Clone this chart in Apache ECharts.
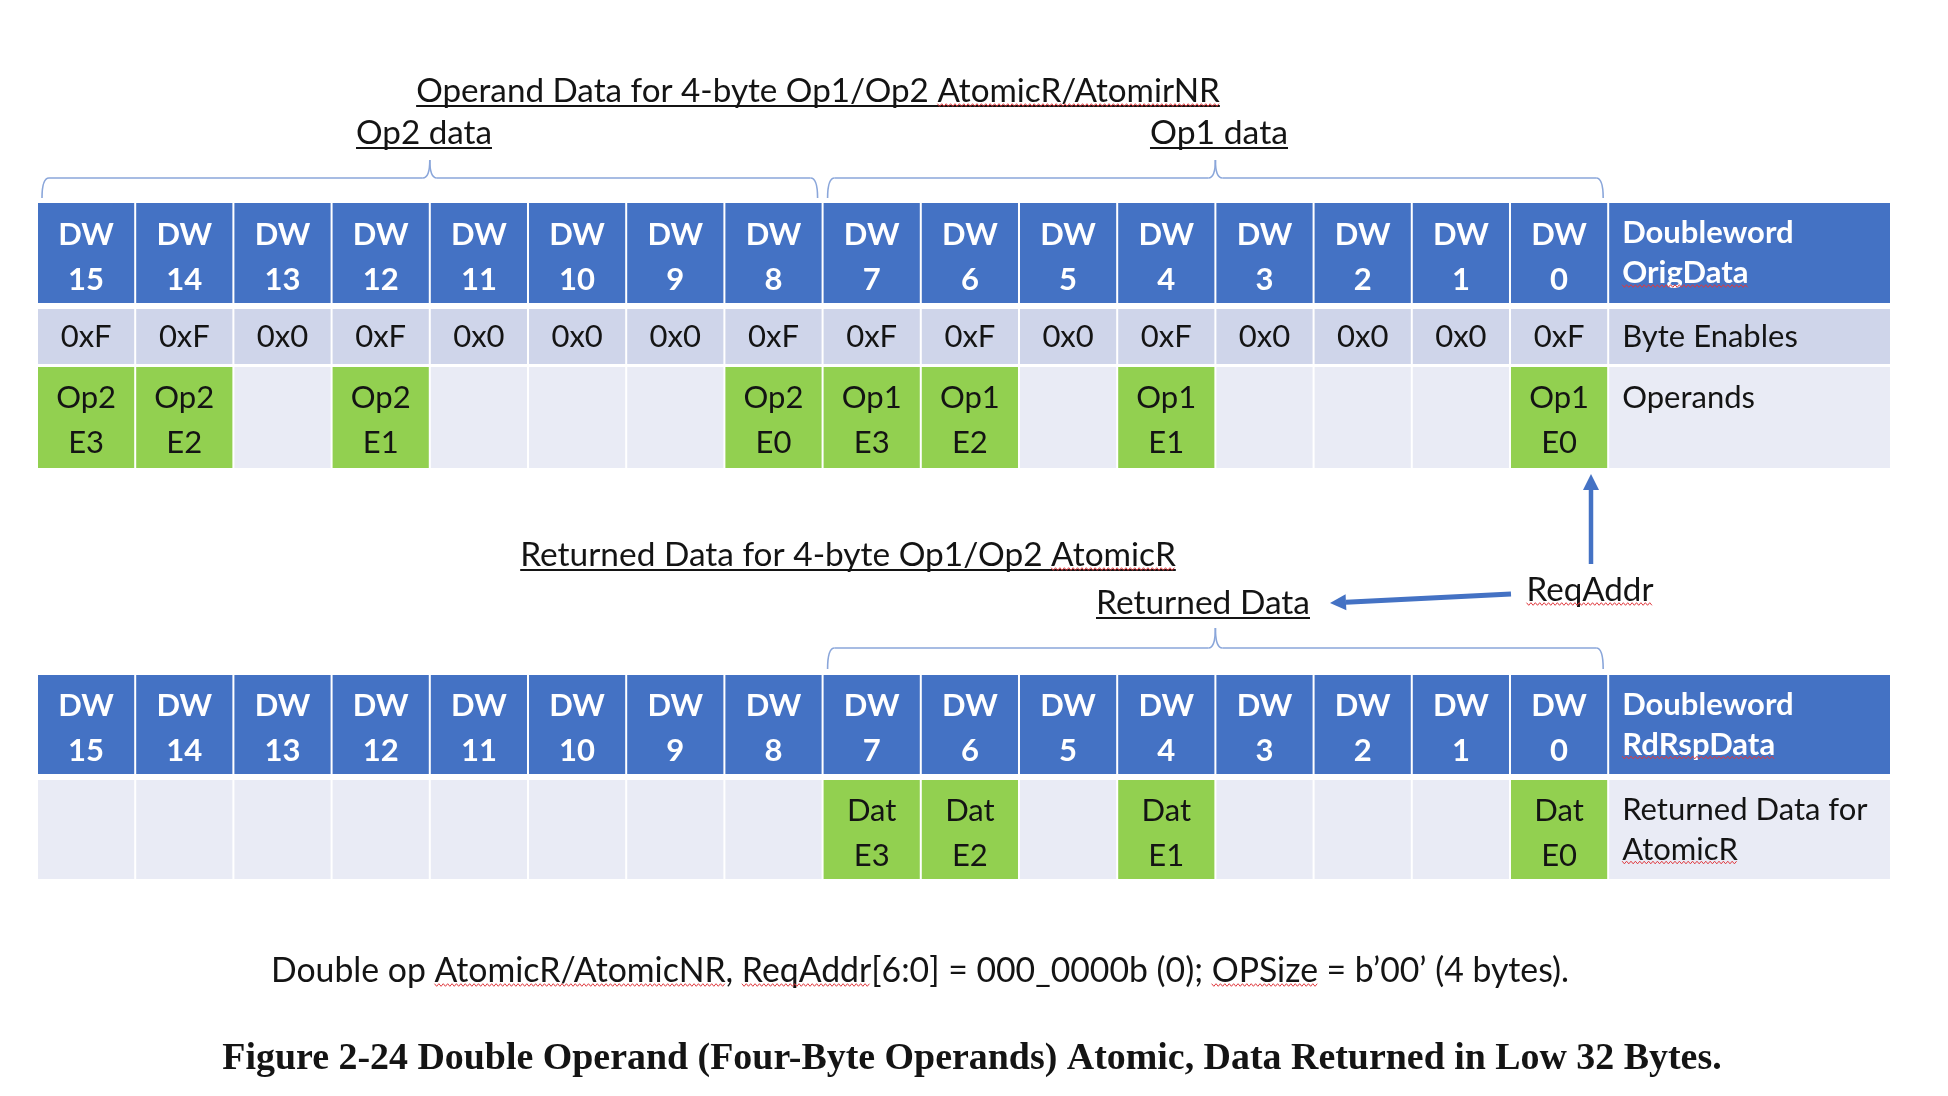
<!DOCTYPE html>
<html>
<head>
<meta charset="utf-8">
<title>Double Operand Atomic</title>
<script src="https://cdn.jsdelivr.net/npm/echarts@6.0.0/dist/echarts.min.js"></script>
<style>
  html, body { margin: 0; padding: 0; background: #fff; }
  #chart { width: 1948px; height: 1096px; }
</style>
</head>
<body>
<div id="chart"></div>
<script>
// doubleword columns, high DW first
var dwNumbers = ['15', '14', '13', '12', '11', '10', '9', '8', '7', '6', '5', '4', '3', '2', '1', '0'];
var byteEnables = ['0xF', '0xF', '0x0', '0xF', '0x0', '0x0', '0x0', '0xF', '0xF', '0xF', '0x0', '0xF', '0x0', '0x0', '0x0', '0xF'];
var operands = ['Op2\nE3', 'Op2\nE2', '', 'Op2\nE1', '', '', '', 'Op2\nE0', 'Op1\nE3', 'Op1\nE2', '', 'Op1\nE1', '', '', '', 'Op1\nE0'];
var returnedData = ['', '', '', '', '', '', '', '', 'Dat\nE3', 'Dat\nE2', '', 'Dat\nE1', '', '', '', 'Dat\nE0'];
var rowLabels = ['Doubleword\nOrigData', 'Byte Enables', 'Operands', 'Doubleword\nRdRspData', 'Returned Data for\nAtomicR'];
// braces, [first column, last column + 1, level]
var braceSpans = [[0, 8, 0], [8, 16, 0], [8, 16, 1]];

var BLUE = '#4472C4', BAND1 = '#CFD5EA', BAND2 = '#E9EBF5', GREEN = '#92D050';
var INK = '#141414', SQUIG = '#e0393e', BRACE = '#8aa6da';
var CELL_FONT = 'Lato';
var LABEL_W = 2.88;

var dwHeads = dwNumbers.map(function (n) { return 'DW\n' + n; });

// row bands (y in layout units of the value axis)
var rows = [
  { y: [203, 303], cells: dwHeads, fill: BLUE, head: true, lh: 45, dy: 4, label: rowLabels[0], mark: 1 },
  { y: [309, 364], cells: byteEnables, fill: BAND1, slots: 1, label: rowLabels[1] },
  { y: [367, 468], cells: operands, fill: BAND2, hit: GREEN, lh: 45, dy: 3, label: rowLabels[2] },
  { y: [675, 774], cells: dwHeads, fill: BLUE, head: true, lh: 45, dy: 4, label: rowLabels[3], mark: 1 },
  { y: [780, 879], cells: returnedData, fill: BAND2, hit: GREEN, lh: 45, dy: 4, label: rowLabels[4], mark: 1 }
];
var LABEL_LH = 40;
var braceLevels = [
  { line: 178, end: 198, tip: 160 },
  { line: 648, end: 669, tip: 628 }
];

var measureCtx = document.createElement('canvas').getContext('2d');
function textWidth(str, font) {
  measureCtx.font = font;
  return measureCtx.measureText(str).width;
}

function squiggle(x0, x1, y) {
  var pts = [], k = 0;
  for (var x = x0; x <= x1; x += 2.2, k++) {
    pts.push([x, y + (k % 2 ? 1.3 : -1.3)]);
  }
  return pts;
}

var cellData = [];
rows.forEach(function (row, r) {
  for (var c = 0; c <= 16; c++) cellData.push([c, r]);
});

function renderCell(params, api) {
  var c = api.value(0), r = api.value(1), row = rows[r];
  var isLabel = c === 16;
  var p0 = api.coord([c, row.y[0]]);
  var p1 = api.coord([isLabel ? c + LABEL_W : c + 1, row.y[1]]);
  var text = isLabel ? row.label : row.cells[c];
  var fill = row.fill;
  if (!isLabel && row.hit && text) fill = row.hit;
  var slots = row.slots || 2;
  var lh = isLabel ? LABEL_LH : (row.lh || 42);
  var size = 31;
  var font = (row.head ? 'bold ' : '') + size + 'px ' + CELL_FONT;
  var cy = (p0[1] + p1[1]) / 2 + (isLabel || slots === 1 ? 0 : (row.dy || 0));
  var top = cy - slots * lh / 2;
  var tx = isLabel ? p0[0] + 14 : (p0[0] + p1[0]) / 2;
  var children = [
    { type: 'rect', shape: { x: p0[0] + 1, y: p0[1], width: p1[0] - p0[0] - 2, height: p1[1] - p0[1] }, style: { fill: fill } },
    {
      type: 'text', x: tx, y: top,
      style: {
        text: text, fill: row.head ? '#fff' : INK, font: font,
        align: isLabel ? 'left' : 'center', verticalAlign: 'top', lineHeight: lh
      }
    }
  ];
  if (isLabel && row.mark != null) {
    var word = text.split('\n')[row.mark];
    var wy = top + row.mark * lh + lh / 2 + size * 0.42;
    children.push({
      type: 'polyline',
      shape: { points: squiggle(tx, tx + textWidth(word, font), wy) },
      style: { stroke: SQUIG, lineWidth: 1, fill: null }
    });
  }
  return { type: 'group', children: children };
}

function renderBrace(params, api) {
  var lv = braceLevels[api.value(2)];
  var a = api.coord([api.value(0), lv.line]);
  var b = api.coord([api.value(1), lv.line]);
  var x0 = a[0] + 5, x1 = b[0] - 5, xc = (a[0] + b[0]) / 2;
  var yl = a[1], ye = api.coord([0, lv.end])[1], yt = api.coord([0, lv.tip])[1];
  var r = 7;
  var st = { stroke: BRACE, lineWidth: 1.6, fill: null };
  function q(xa, ya, cx, cy, xb, yb) {
    return { type: 'bezierCurve', shape: { x1: xa, y1: ya, cpx1: cx, cpy1: cy, x2: xb, y2: yb }, style: st };
  }
  return {
    type: 'group',
    children: [
      q(x0, ye, x0, yl, x0 + r, yl),
      { type: 'line', shape: { x1: x0 + r, y1: yl, x2: xc - r, y2: yl }, style: st },
      q(xc - r, yl, xc, yl, xc, yt),
      q(xc, yt, xc, yl, xc + r, yl),
      { type: 'line', shape: { x1: xc + r, y1: yl, x2: x1 - r, y2: yl }, style: st },
      q(x1 - r, yl, x1, yl, x1, ye)
    ]
  };
}

// captions: fitted to the width they take in the figure
var captions = [
  { text: 'Operand Data for 4-byte Op1/Op2 AtomicR/AtomirNR', cx: 818, base: 102, w: 804, under: true, marks: ['AtomicR/AtomirNR'] },
  { text: 'Op2 data', cx: 424, base: 144, w: 136, under: true },
  { text: 'Op1 data', cx: 1219, base: 144, w: 138, under: true },
  { text: 'Returned Data for 4-byte Op1/Op2 AtomicR', cx: 848, base: 566, w: 656, under: true, marks: ['AtomicR'] },
  { text: 'Returned Data', cx: 1203, base: 614, w: 214, under: true },
  { text: 'ReqAddr', cx: 1590, base: 601, w: 127, marks: ['ReqAddr'] },
  { text: 'Double op AtomicR/AtomicNR, ReqAddr[6:0] = 000_0000b (0); OPSize = b\u201900\u2019 (4 bytes).', cx: 920, base: 982, w: 1298, marks: ['AtomicR/AtomicNR', 'ReqAddr', 'OPSize'] },
  { text: 'Figure 2-24 Double Operand (Four-Byte Operands) Atomic, Data Returned in Low 32 Bytes.', cx: 972, base: 1071, w: 1500, bold: true, family: '"Liberation Serif"' }
];

var graphics = [];
captions.forEach(function (cap) {
  var fam = cap.family || CELL_FONT;
  var wt = cap.bold ? 'bold ' : '';
  var size = 100 * cap.w / textWidth(cap.text, wt + '100px ' + fam);
  var font = wt + size.toFixed(2) + 'px ' + fam;
  var width = textWidth(cap.text, font);
  var left = cap.cx - width / 2;
  graphics.push({
    type: 'text', x: cap.cx, y: cap.base - size * 0.32,
    style: { text: cap.text, font: font, fill: INK, align: 'center', verticalAlign: 'middle' }
  });
  if (cap.under) {
    graphics.push({
      type: 'line', shape: { x1: left, y1: cap.base + 4, x2: left + width, y2: cap.base + 4 },
      style: { stroke: INK, lineWidth: 2 }
    });
  }
  (cap.marks || []).forEach(function (m) {
    var i = cap.text.indexOf(m);
    var mx = left + textWidth(cap.text.slice(0, i), font);
    graphics.push({
      type: 'polyline',
      shape: { points: squiggle(mx, mx + textWidth(m, font), cap.base + 3) },
      style: { stroke: SQUIG, lineWidth: 1, fill: null }
    });
  });
});

function arrow(from, to, w, headLen, headW) {
  var dx = to[0] - from[0], dy = to[1] - from[1];
  var len = Math.sqrt(dx * dx + dy * dy), ux = dx / len, uy = dy / len;
  var bx = to[0] - ux * headLen, by = to[1] - uy * headLen;
  graphics.push({ type: 'line', shape: { x1: from[0], y1: from[1], x2: bx, y2: by }, style: { stroke: BLUE, lineWidth: w } });
  graphics.push({
    type: 'polygon',
    shape: { points: [to, [bx - uy * headW, by + ux * headW], [bx + uy * headW, by - ux * headW]] },
    style: { fill: BLUE }
  });
}
arrow([1591, 564], [1591, 474], 4.5, 16, 8);
arrow([1511, 594], [1330, 603], 5, 16, 8);

var chart = echarts.init(document.getElementById('chart'), null, { renderer: 'canvas' });
chart.setOption({
  backgroundColor: '#fff',
  animation: false,
  grid: { left: 37, top: 0, width: 1854, height: 1096 },
  xAxis: { type: 'value', min: 0, max: 16 + LABEL_W, show: false },
  yAxis: { type: 'value', min: 0, max: 1096, inverse: true, show: false },
  series: [
    { type: 'custom', name: 'cells', coordinateSystem: 'cartesian2d', silent: true, data: cellData, renderItem: renderCell },
    { type: 'custom', name: 'braces', coordinateSystem: 'cartesian2d', silent: true, data: braceSpans, renderItem: renderBrace }
  ],
  graphic: graphics
});
</script>
</body>
</html>
